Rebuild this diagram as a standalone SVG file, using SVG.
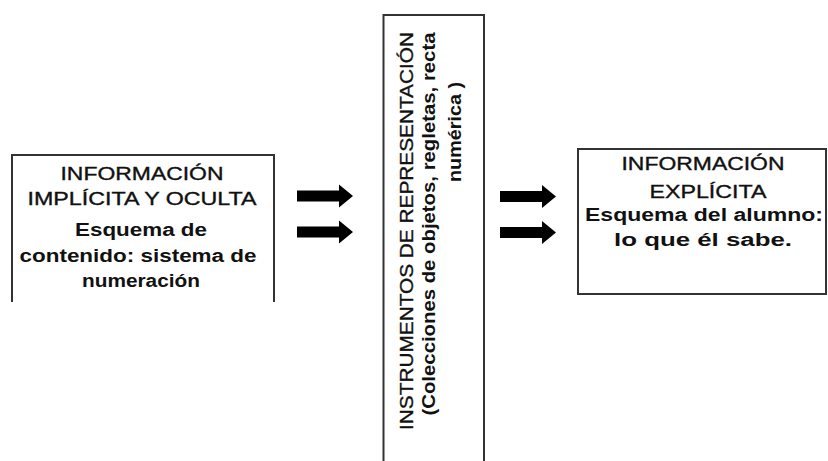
<svg xmlns="http://www.w3.org/2000/svg" xmlns:xlink="http://www.w3.org/1999/xlink" width="828" height="461" viewBox="0 0 828 461">
<style>
.box{fill:none;stroke:#333;stroke-width:2}
.t{font-family:"Liberation Sans",Arial,sans-serif;font-size:18px;fill:#111;text-anchor:middle}
.r{stroke:#111;stroke-width:0.35}
.b{font-weight:bold}
.arr{fill:#000}
</style>
<defs>
<path id="arrow" class="arr" d="M0,-5.5 H42 V-11.5 L56,0 L42,11.5 V5.5 H0 Z"/>
</defs>
<rect width="828" height="461" fill="#fff"/>
<g id="node-implicita">
<path class="box" d="M12,302 V155 H274 V302"/>
<text class="t r" x="142" y="180" textLength="163" lengthAdjust="spacingAndGlyphs">INFORMACIÓN</text>
<text class="t r" x="142" y="205" textLength="229" lengthAdjust="spacingAndGlyphs">IMPLÍCITA Y OCULTA</text>
<text class="t b" x="141" y="236" textLength="132" lengthAdjust="spacingAndGlyphs">Esquema de</text>
<text class="t b" x="138" y="262" textLength="237" lengthAdjust="spacingAndGlyphs">contenido: sistema de</text>
<text class="t b" x="141" y="287" textLength="118" lengthAdjust="spacingAndGlyphs">numeración</text>
</g>
<g id="node-instrumentos">
<path class="box" d="M383.5,461 V15 H484 V461"/>
<text class="t r" font-size="20" transform="translate(413,231) rotate(-90)" x="0" y="0" textLength="398" lengthAdjust="spacingAndGlyphs">INSTRUMENTOS DE REPRESENTACIÓN</text>
<text class="t b" transform="translate(435,224) rotate(-90)" x="0" y="0" textLength="383" lengthAdjust="spacingAndGlyphs">(Colecciones de objetos, regletas, recta</text>
<text class="t b" transform="translate(461,132) rotate(-90)" x="0" y="0" textLength="100" lengthAdjust="spacingAndGlyphs">numérica )</text>
</g>
<g id="node-explicita">
<rect class="box" x="578" y="149" width="248" height="145"/>
<text class="t r" x="703" y="170" textLength="163" lengthAdjust="spacingAndGlyphs">INFORMACIÓN</text>
<text class="t r" x="708" y="198" textLength="117" lengthAdjust="spacingAndGlyphs">EXPLÍCITA</text>
<text class="t b" x="704" y="221" textLength="238" lengthAdjust="spacingAndGlyphs">Esquema del alumno:</text>
<text class="t b" x="703" y="246" textLength="178" lengthAdjust="spacingAndGlyphs">lo que él sabe.</text>
</g>
<g id="connectors">
<use xlink:href="#arrow" transform="translate(297,196)"/>
<use xlink:href="#arrow" transform="translate(297,232)"/>
<use xlink:href="#arrow" transform="translate(500,196.5)"/>
<use xlink:href="#arrow" transform="translate(500,232.5)"/>
</g>
</svg>
